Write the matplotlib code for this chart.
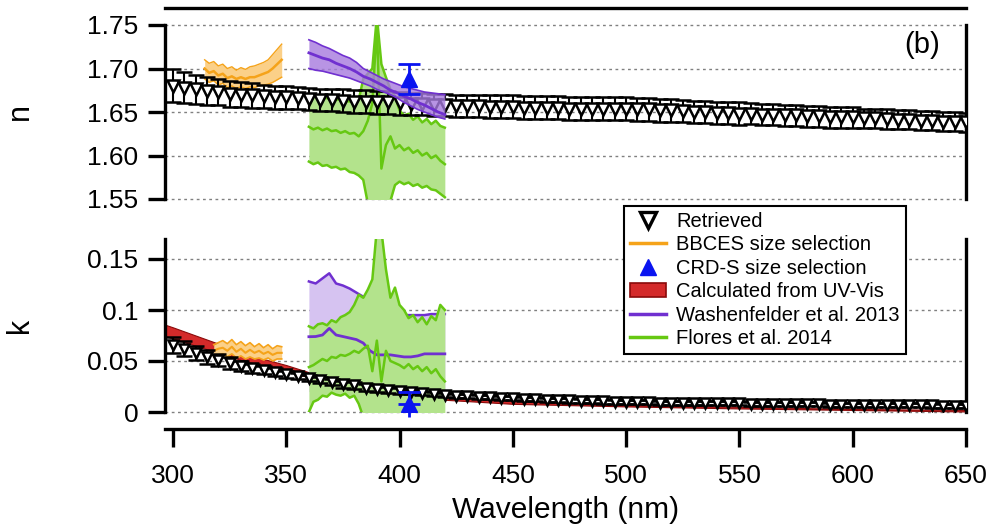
import numpy as np
import matplotlib
matplotlib.use('Agg')
import matplotlib.pyplot as plt
from matplotlib.lines import Line2D
from matplotlib.patches import Patch

plt.rcParams['font.family'] = ['Liberation Sans', 'DejaVu Sans']

# ---------------- data ----------------
wl_ret = list(range(300, 651, 5))
n_ret = [1.680, 1.678, 1.676, 1.674, 1.673, 1.671, 1.670, 1.669, 1.668, 1.667,
         1.667, 1.666, 1.665, 1.664, 1.664, 1.663, 1.662, 1.662, 1.661, 1.661,
         1.660, 1.659, 1.659, 1.658, 1.658, 1.657, 1.657, 1.657, 1.656, 1.656,
         1.656, 1.655, 1.655, 1.655, 1.655, 1.654, 1.654, 1.654, 1.654, 1.654,
         1.654, 1.653, 1.653, 1.652, 1.652, 1.651, 1.650, 1.650, 1.649, 1.649,
         1.648, 1.648, 1.647, 1.647, 1.646, 1.646, 1.645, 1.645, 1.644, 1.644,
         1.644, 1.643, 1.643, 1.642, 1.641, 1.641, 1.640, 1.640, 1.639, 1.639,
         1.638]
n_err = ([0.019, 0.018, 0.017, 0.016, 0.015, 0.015, 0.014, 0.014, 0.013, 0.013]
         + [0.013] * 41 + [0.012] * 10 + [0.011] * 10)
k_ret = [0.066, 0.062, 0.058, 0.054, 0.051, 0.048, 0.045, 0.043, 0.041, 0.039,
         0.037, 0.035, 0.033, 0.031, 0.029, 0.027, 0.026, 0.024, 0.023, 0.022,
         0.021, 0.020, 0.019, 0.018, 0.017, 0.016, 0.0155, 0.015, 0.0145, 0.014,
         0.0135, 0.013, 0.0125, 0.012, 0.0117, 0.0113, 0.011, 0.0107, 0.0103, 0.0100,
         0.0098, 0.0096, 0.0094, 0.0092, 0.0090, 0.0089, 0.0088, 0.0087, 0.0086, 0.0085,
         0.0084, 0.0082, 0.0080, 0.0078, 0.0077, 0.0076, 0.0075, 0.0074, 0.0073, 0.0072,
         0.0071, 0.0070, 0.0069, 0.0068, 0.0067, 0.0066, 0.0065, 0.0064, 0.0063, 0.0062,
         0.0061]
k_err = ([0.008, 0.0075, 0.007, 0.0065, 0.006, 0.0055, 0.005, 0.0045, 0.004, 0.004, 0.0035]
         + [0.003] * 10 + [0.002] * 50)

# Calculated from UV-Vis (k band)
wl_uv = [296, 300, 310, 320, 330, 340, 350, 360, 370, 380, 390, 400, 420, 450, 500, 550, 600, 650]
uv_hi = [0.086, 0.083, 0.075, 0.067, 0.059, 0.052, 0.046, 0.039, 0.033, 0.028, 0.024, 0.020,
         0.015, 0.011, 0.007, 0.005, 0.003, 0.002]
uv_lo = [0.075, 0.072, 0.065, 0.058, 0.051, 0.045, 0.040, 0.034, 0.029, 0.024, 0.021, 0.017,
         0.012, 0.008, 0.0055, 0.0035, 0.002, 0.0005]

# BBCES size selection
wl_bb_n = list(range(314, 349, 2))
bb_n_hi = [1.710, 1.706, 1.708, 1.703, 1.705, 1.700, 1.702, 1.698, 1.701, 1.699,
           1.702, 1.703, 1.705, 1.707, 1.710, 1.716, 1.722, 1.728]
bb_n_mid = [1.700, 1.695, 1.697, 1.692, 1.694, 1.689, 1.691, 1.688, 1.690, 1.688,
            1.690, 1.690, 1.692, 1.694, 1.696, 1.700, 1.705, 1.710]
bb_n_lo = [1.688, 1.684, 1.686, 1.681, 1.683, 1.678, 1.680, 1.677, 1.679, 1.677,
           1.679, 1.678, 1.680, 1.681, 1.682, 1.684, 1.687, 1.690]
wl_bb_k = list(range(318, 349, 2))
bb_k_hi = [0.066, 0.068, 0.070, 0.067, 0.071, 0.066, 0.069, 0.065, 0.068, 0.064,
           0.067, 0.063, 0.066, 0.062, 0.065, 0.064]
bb_k_mid = [0.060, 0.062, 0.063, 0.060, 0.064, 0.059, 0.062, 0.058, 0.061, 0.058,
            0.060, 0.057, 0.059, 0.056, 0.058, 0.058]
bb_k_lo = [0.054, 0.056, 0.057, 0.054, 0.057, 0.053, 0.055, 0.052, 0.054, 0.052,
           0.053, 0.051, 0.053, 0.050, 0.052, 0.052]

# CRD-S size selection
crd_wl = [404]
crd_n = [1.688]
crd_n_err = [0.017]
crd_k = [0.008]
crd_k_err_hi = [0.012]
crd_k_err_lo = [0.013]

# Washenfelder et al. 2013
wl_wa = [360, 363, 366, 369, 372, 375, 378, 381, 384, 387, 390, 393, 396, 399, 402, 405, 408, 411, 414, 417, 420]
wa_n_mid = [1.718, 1.715, 1.712, 1.710, 1.706, 1.703, 1.700, 1.696, 1.691, 1.688, 1.684,
            1.680, 1.675, 1.672, 1.668, 1.665, 1.661, 1.658, 1.654, 1.650, 1.647]
wa_n_hi = [1.733, 1.730, 1.726, 1.723, 1.719, 1.715, 1.712, 1.707, 1.700, 1.696, 1.692,
           1.688, 1.685, 1.682, 1.679, 1.677, 1.675, 1.673, 1.672, 1.671, 1.670]
wa_n_lo = [1.700, 1.698, 1.697, 1.695, 1.693, 1.691, 1.689, 1.686, 1.683, 1.680, 1.676,
           1.673, 1.670, 1.666, 1.661, 1.657, 1.653, 1.650, 1.647, 1.644, 1.642]
wa_k_mid = [0.0738, 0.074, 0.0755, 0.082, 0.0755, 0.074, 0.0725, 0.071, 0.0676, 0.060, 0.056,
            0.056, 0.056, 0.055, 0.054, 0.054, 0.055, 0.057, 0.057, 0.057, 0.057]
wa_k_hi = [0.128, 0.126, 0.131, 0.136, 0.126, 0.124, 0.121, 0.117, 0.113, 0.108, 0.103,
           0.099, 0.096, 0.095, 0.095, 0.095, 0.095, 0.095, 0.096, 0.096, 0.096]
wa_k_lo = [0.020, 0.022, 0.020, 0.028, 0.025, 0.024, 0.024, 0.025, 0.022, 0.012, 0.009,
           0.013, 0.016, 0.015, 0.013, 0.013, 0.015, 0.019, 0.018, 0.018, 0.018]

# Flores et al. 2014
wl_fl = list(range(360, 421, 2))
fl_n_hi = [1.668, 1.667, 1.668, 1.666, 1.666, 1.665, 1.664, 1.665, 1.663, 1.662,
           1.663, 1.664, 1.688, 1.694, 1.700, 1.760, 1.705, 1.690, 1.676, 1.668,
           1.652, 1.646, 1.648, 1.641, 1.645, 1.638, 1.642, 1.636, 1.640, 1.634, 1.632]
fl_n_mid = [1.633, 1.630, 1.632, 1.629, 1.631, 1.628, 1.629, 1.626, 1.628, 1.625,
            1.626, 1.622, 1.628, 1.640, 1.660, 1.750, 1.585, 1.612, 1.622, 1.608,
            1.612, 1.606, 1.609, 1.603, 1.606, 1.600, 1.603, 1.597, 1.600, 1.594, 1.590]
fl_n_lo = [1.593, 1.590, 1.592, 1.588, 1.589, 1.586, 1.587, 1.584, 1.585, 1.581,
           1.580, 1.577, 1.572, 1.545, 1.535, 1.520, 1.530, 1.540, 1.548, 1.566,
           1.570, 1.567, 1.569, 1.565, 1.567, 1.563, 1.565, 1.561, 1.560, 1.556, 1.552]
fl_k_hi = [0.084, 0.082, 0.086, 0.087, 0.085, 0.090, 0.088, 0.093, 0.095, 0.098,
           0.105, 0.115, 0.112, 0.120, 0.130, 0.180, 0.178, 0.140, 0.112, 0.122,
           0.105, 0.100, 0.092, 0.095, 0.088, 0.093, 0.086, 0.094, 0.090, 0.105, 0.100]
fl_k_mid = [0.044, 0.046, 0.049, 0.052, 0.050, 0.054, 0.053, 0.056, 0.055, 0.057,
            0.060, 0.058, 0.062, 0.065, 0.040, 0.070, 0.030, 0.060, 0.050, 0.048,
            0.046, 0.043, 0.047, 0.042, 0.045, 0.040, 0.044, 0.038, 0.042, 0.035, 0.030]
fl_k_lo = [0.000, 0.010, 0.012, 0.016, 0.015, 0.019, 0.017, 0.016, 0.018, 0.014,
           0.016, 0.008, -0.005, -0.005, -0.005, -0.005, -0.005, -0.005, -0.005, -0.005,
           -0.005, -0.005, -0.005, -0.005, -0.005, -0.005, -0.005, -0.005, -0.005, -0.005, -0.005]

n_ticks = [1.55, 1.60, 1.65, 1.70, 1.75]
n_ticklabels = ['1.55', '1.60', '1.65', '1.70', '1.75']
k_ticks = [0, 0.05, 0.1, 0.15]
k_ticklabels = ['0', '0.05', '0.1', '0.15']
x_ticks = [300, 350, 400, 450, 500, 550, 600, 650]

# ---------------- style ----------------
c_orange = '#f5a31a'
c_orange_fill = '#fbd088'
c_blue = '#0a14f0'
c_red = '#d42a2a'
c_red_edge = '#8a0a0a'
c_purple = '#7030d0'
c_purple_fill_n = '#a67ade'
c_purple_fill_k = '#d6c3f1'
c_green = '#66c812'
c_green_fill = '#b3e38c'

W, H = 995, 525
fig = plt.figure(figsize=(W / 100, H / 100), dpi=100)
L, R = 165 / W, 966 / W
ax1 = fig.add_axes([L, 1 - 199 / H, R - L, (199 - 25) / H])
ax2 = fig.add_axes([L, 1 - 412 / H, R - L, (412 - 238.6) / H])

SP_LW = 2.4
OFF = 12.2
for ax in (ax1, ax2):
    ax.set_xlim(296.5, 650)
    for s in ax.spines.values():
        s.set_linewidth(SP_LW)
    ax.tick_params(axis='y', direction='out', length=12, width=SP_LW, labelsize=19, pad=7)
    ax.tick_params(axis='y', right=False)

GRID_KW = dict(color='#808080', lw=1.0, ls=(0, (2, 2.5)), zorder=0.5, clip_on=False)

# top panel
ax1.set_ylim(1.55, 1.75)
ax1.spines['bottom'].set_visible(False)
ax1.spines['top'].set_position(('outward', OFF))
ax1.tick_params(axis='x', bottom=False, labelbottom=False, top=False)
ax1.set_yticks(n_ticks)
ax1.set_yticklabels(n_ticklabels)
for t in n_ticks:
    ax1.axhline(t, **GRID_KW)

# bottom panel
ax2.set_ylim(0, 0.17)
ax2.spines['top'].set_visible(False)
ax2.spines['bottom'].set_position(('outward', OFF))
ax2.set_yticks(k_ticks)
ax2.set_yticklabels(k_ticklabels)
ax2.set_xticks(x_ticks)
ax2.tick_params(axis='x', direction='out', length=13, width=SP_LW, labelsize=19, pad=12)
for t in k_ticks:
    ax2.axhline(t, **GRID_KW)

# ---- n panel ----
ax1.fill_between(wl_bb_n, bb_n_lo, bb_n_hi, color=c_orange_fill, lw=0, zorder=2)
ax1.plot(wl_bb_n, bb_n_hi, color=c_orange, lw=1.0, zorder=2.1)
ax1.plot(wl_bb_n, bb_n_lo, color=c_orange, lw=1.0, zorder=2.1)
ax1.plot(wl_bb_n, bb_n_mid, color=c_orange, lw=1.8, zorder=2.2)

ax1.fill_between(wl_fl, fl_n_lo, fl_n_hi, color=c_green_fill, lw=0, zorder=2)
for arr in (fl_n_hi, fl_n_mid, fl_n_lo):
    ax1.plot(wl_fl, arr, color=c_green, lw=1.8, zorder=2.3)

ax1.errorbar(wl_ret, n_ret, yerr=n_err, fmt='v', ms=9, mfc='white', mec='black', mew=1.8,
             ecolor='black', elinewidth=1.5, capsize=6, capthick=2, zorder=4)

ax1.fill_between(wl_wa, wa_n_lo, wa_n_hi, color=c_purple_fill_n, lw=0, alpha=0.8, zorder=4.5)
ax1.plot(wl_wa, wa_n_hi, color=c_purple, lw=1.2, zorder=4.6)
ax1.plot(wl_wa, wa_n_lo, color=c_purple, lw=1.2, zorder=4.6)
ax1.plot(wl_wa, wa_n_mid, color=c_purple, lw=2.0, zorder=4.7)

ax1.errorbar(crd_wl, crd_n, yerr=crd_n_err, fmt='^', ms=11, color=c_blue, ecolor=c_blue,
             elinewidth=2, capsize=8, capthick=2, zorder=6)

ax1.text(630.5, 1.727, '(b)', fontsize=21, ha='center', va='center', zorder=7,
         bbox=dict(facecolor='white', edgecolor='none', pad=1.5))
ax1.set_ylabel('n', fontsize=22, labelpad=38)

# ---- k panel ----
ax2.fill_between(wl_uv, uv_lo, uv_hi, facecolor=c_red, edgecolor=c_red_edge, lw=0.8, zorder=2)

ax2.fill_between(wl_bb_k, bb_k_lo, bb_k_hi, color=c_orange_fill, lw=0, zorder=2.5)
ax2.plot(wl_bb_k, bb_k_hi, color=c_orange, lw=1.2, zorder=2.6)
ax2.plot(wl_bb_k, bb_k_lo, color=c_orange, lw=1.2, zorder=2.6)
ax2.plot(wl_bb_k, bb_k_mid, color=c_orange, lw=1.5, zorder=2.7)

ax2.fill_between(wl_wa, wa_k_lo, wa_k_hi, color=c_purple_fill_k, lw=0, zorder=2.5)
ax2.plot(wl_wa, wa_k_hi, color=c_purple, lw=1.8, zorder=2.6)
ax2.fill_between(wl_fl, fl_k_lo, fl_k_hi, color=c_green_fill, lw=0, zorder=2.8)
ax2.plot(wl_wa, wa_k_mid, color=c_purple, lw=2.0, zorder=2.9)
for arr in (fl_k_hi, fl_k_mid, fl_k_lo):
    ax2.plot(wl_fl, arr, color=c_green, lw=1.8, zorder=3.0)

ax2.errorbar(wl_ret, k_ret, yerr=k_err, fmt='v', ms=7.5, mfc='white', mec='black', mew=1.8,
             ecolor='black', elinewidth=1.5, capsize=6, capthick=2, zorder=4)

ax2.errorbar(crd_wl, crd_k, yerr=[[0], crd_k_err_hi], fmt='^', ms=11, color=c_blue, ecolor=c_blue,
             elinewidth=2, capsize=8, capthick=2, zorder=6)
ax2.vlines(crd_wl, np.array(crd_k) - np.array(crd_k_err_lo), crd_k, color=c_blue, lw=2,
           zorder=6, clip_on=False)

ax2.set_ylabel('k', fontsize=22, labelpad=38)
ax2.set_xlabel('Wavelength (nm)', fontsize=21.5, labelpad=6)

# ---- legend ----
handles = [
    Line2D([], [], ls='none', marker='v', ms=11, mfc='white', mec='black', mew=2.4),
    Line2D([], [], color=c_orange, lw=2.5),
    Line2D([], [], ls='none', marker='^', ms=11, color=c_blue),
    Patch(facecolor=c_red, edgecolor=c_red_edge, lw=1.2),
    Line2D([], [], color=c_purple, lw=2.5),
    Line2D([], [], color=c_green, lw=2.5),
]
labels = ['Retrieved', 'BBCES size selection', 'CRD-S size selection',
          'Calculated from UV-Vis', 'Washenfelder et al. 2013', 'Flores et al. 2014']
leg = fig.legend(handles, labels, loc='upper left', bbox_to_anchor=(624 / W, 1 - 206 / H),
                 frameon=True, fancybox=False, edgecolor='black', framealpha=1,
                 fontsize=14.5, handlelength=1.8, handletextpad=0.5, labelspacing=0.22,
                 borderpad=0.3, borderaxespad=0)
leg.get_frame().set_linewidth(1.5)

fig.savefig('out.png', dpi=100)
